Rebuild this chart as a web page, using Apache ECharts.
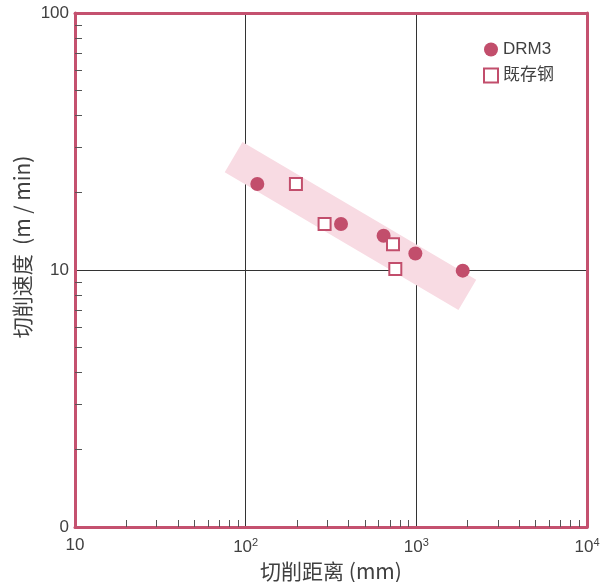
<!DOCTYPE html>
<html><head><meta charset="utf-8">
<script src="https://cdn.jsdelivr.net/npm/echarts@6/dist/echarts.min.js"></script>
<style>html,body{margin:0;padding:0;background:#fff}#c{width:601px;height:582px}</style>
</head><body><div id="c"></div>
<script>
// Data
const drm3X = [117, 362, 643, 987, 1870];
const drm3Y = [21.6, 15.1, 13.6, 11.6, 9.94];
const steelX = [197, 290, 730, 753];
const steelY = [21.6, 15.1, 12.6, 10.1];
const bandX = [85, 1990];
const bandY = [27.5, 8.0];
const xMinorTicks = [20,30,40,50,60,70,80,90,200,300,400,500,600,700,800,900,2000,3000,4000,5000,6000,7000,8000,9000];
const yMinorTicks = [2,3,4,5,6,7,8,9,20,30,40,50,60,70,80,90];
const seriesNames = ['DRM3', '既存钢'];
const xName = '切削距离 (mm)';
const yName = '切削速度  (m / min)';

const pink = '#c24e6c';
const border = '#c4516f';
const bandColor = '#f8dbe3';
const txt = '#404040';
const font = '"Liberation Sans", Arial, "Noto Sans CJK SC", sans-serif';
const cjkFont = '"Noto Sans CJK SC", "Liberation Sans", sans-serif';

const chart = echarts.init(document.getElementById('c'));
chart.setOption({
  animation: false,
  backgroundColor: '#fff',
  grid: {left: 75, right: 14, top: 13, bottom: 55, containLabel: false, outerBoundsMode: 'none'},
  legend: {
    orient: 'vertical', left: 478, top: 36, itemGap: 9,
    itemWidth: 14, itemHeight: 14,
    textStyle: {fontSize: 17, color: txt, fontFamily: font},
    data: [{name: seriesNames[0], icon: 'circle'}, {name: seriesNames[1], icon: 'rect'}]
  },
  xAxis: [
    {type: 'log', logBase: 10, min: 10, max: 10000, position: 'bottom',
     axisLine: {show: false}, axisTick: {show: false},
     splitLine: {show: true, lineStyle: {color: '#333', width: 1}},
     axisLabel: {fontSize: 17, color: txt, fontFamily: font, margin: 10,
       formatter: v => { const e = Math.round(Math.log10(v)); return e === 1 ? '10' : '10{s|' + e + '}'; },
       rich: {s: {fontSize: 11, color: txt, fontFamily: font, padding: [0, 0, 9, 0]}}},
     name: xName, nameLocation: 'middle', nameGap: 30,
     nameTextStyle: {fontSize: 21, color: txt, fontFamily: cjkFont}},
    {type: 'log', logBase: 10, min: 10, max: 10000, position: 'bottom', z: 5,
     axisLine: {show: true, lineStyle: {color: border, width: 3}},
     axisTick: {show: true, inside: true, length: 7, customValues: xMinorTicks, lineStyle: {color: '#555', width: 1}},
     axisLabel: {show: false}, splitLine: {show: false}},
    {type: 'log', logBase: 10, min: 10, max: 10000, position: 'top', z: 5,
     axisLine: {show: true, lineStyle: {color: border, width: 3}},
     axisTick: {show: false}, axisLabel: {show: false}, splitLine: {show: false}}
  ],
  yAxis: [
    {type: 'log', logBase: 10, min: 1, max: 100, position: 'left',
     axisLine: {show: false}, axisTick: {show: false},
     splitLine: {show: true, lineStyle: {color: '#333', width: 1}},
     axisLabel: {fontSize: 17, color: txt, fontFamily: font, margin: 6,
       formatter: v => (Math.abs(v - 1) < 1e-6 ? '0' : String(Math.round(v)))}},
    {type: 'log', logBase: 10, min: 1, max: 100, position: 'left', z: 5,
     axisLine: {show: true, lineStyle: {color: border, width: 3}},
     axisTick: {show: true, inside: true, length: 7, customValues: yMinorTicks, lineStyle: {color: '#555', width: 1}},
     axisLabel: {show: false}, splitLine: {show: false}},
    {type: 'log', logBase: 10, min: 1, max: 100, position: 'right', z: 5,
     axisLine: {show: true, lineStyle: {color: border, width: 3}},
     axisTick: {show: false}, axisLabel: {show: false}, splitLine: {show: false}}
  ],
  graphic: [{
    type: 'text', x: 22, y: 247, rotation: Math.PI / 2,
    style: {text: yName, fontSize: 21, fill: txt, fontFamily: cjkFont, align: 'center', verticalAlign: 'middle'}
  }],
  series: [
    {type: 'line', name: 'band', xAxisIndex: 0, yAxisIndex: 0, z: 2,
     data: bandX.map((x, i) => [x, bandY[i]]), symbol: 'none', silent: true,
     lineStyle: {color: bandColor, width: 35, cap: 'butt'}},
    {type: 'scatter', name: seriesNames[0], xAxisIndex: 0, yAxisIndex: 0, z: 4,
     data: drm3X.map((x, i) => [x, drm3Y[i]]), symbol: 'circle', symbolSize: 14,
     itemStyle: {color: pink, opacity: 1}},
    {type: 'scatter', name: seriesNames[1], xAxisIndex: 0, yAxisIndex: 0, z: 4,
     data: steelX.map((x, i) => [x, steelY[i]]), symbol: 'rect', symbolSize: 12,
     itemStyle: {color: '#fff', borderColor: pink, borderWidth: 2, opacity: 1}}
  ]
});
</script></body></html>
